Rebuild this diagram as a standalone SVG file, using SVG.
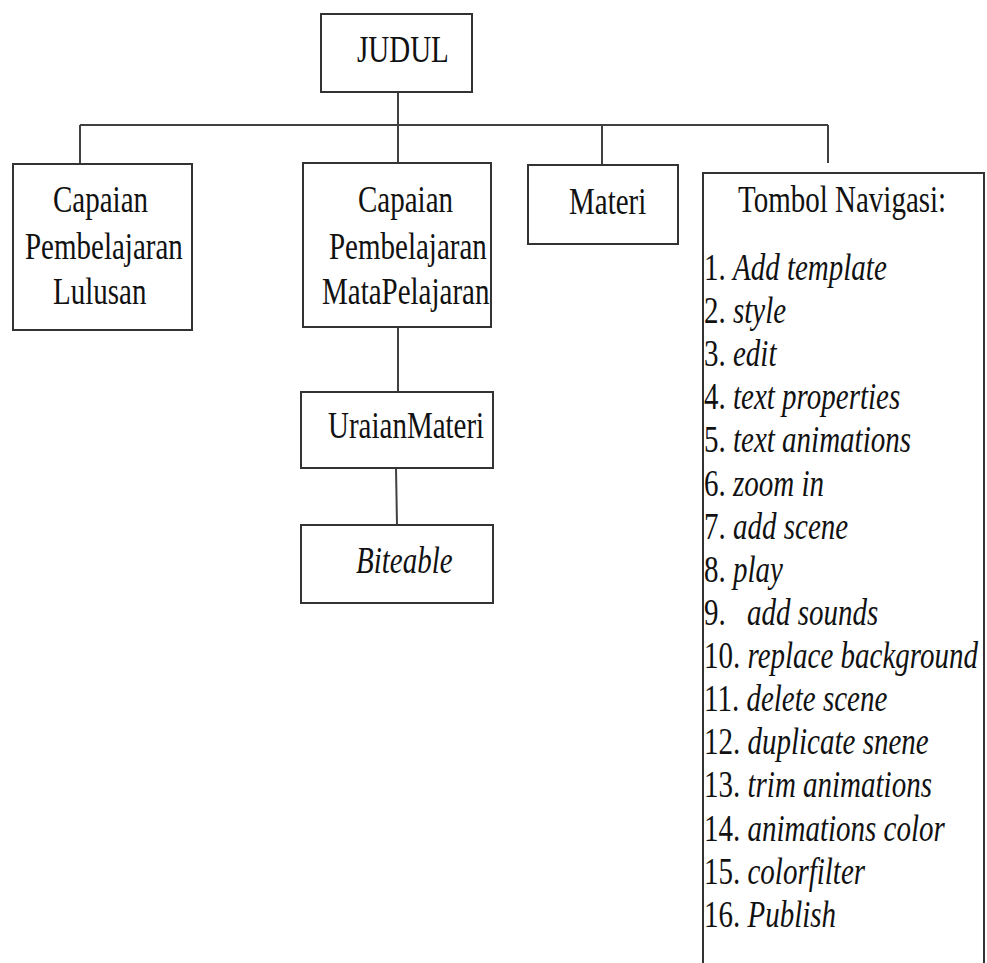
<svg xmlns="http://www.w3.org/2000/svg" width="987" height="963" viewBox="0 0 987 963">
<style>
  .box { fill: #ffffff; stroke: #333333; stroke-width: 2; }
  .ln { stroke: #404040; stroke-width: 2; fill: none; }
  text { font-family: "Liberation Serif", "Times New Roman", serif; font-size: 29px; fill: #111111; }
  .i { font-style: italic; }
</style>
<rect width="987" height="963" fill="#ffffff"/>
<g id="connectors">
  <line class="ln" x1="398" y1="92" x2="398" y2="163"/>
  <line class="ln" x1="80" y1="125" x2="828" y2="125"/>
  <line class="ln" x1="80" y1="125" x2="80" y2="164"/>
  <line class="ln" x1="602" y1="125" x2="602" y2="165"/>
  <line class="ln" x1="828" y1="125" x2="828" y2="163"/>
  <line class="ln" x1="398" y1="327" x2="398" y2="392"/>
  <line class="ln" x1="396" y1="468" x2="397" y2="525"/>
</g>
<g id="judul">
  <rect class="box" x="321" y="14" width="151" height="78"/>
  <text transform="translate(357,62) scale(1,1.3)">JUDUL</text>
</g>
<g id="cpl">
  <rect class="box" x="13" y="164" width="179" height="166"/>
  <text transform="translate(53,212) scale(1,1.3)">Capaian</text>
  <text transform="translate(25,259) scale(1,1.3)">Pembelajaran</text>
  <text transform="translate(53,304) scale(1,1.3)">Lulusan</text>
</g>
<g id="cpmp">
  <rect class="box" x="303" y="163" width="188" height="164"/>
  <text transform="translate(358,212) scale(1,1.3)">Capaian</text>
  <text transform="translate(329,259) scale(1,1.3)">Pembelajaran</text>
  <text transform="translate(322,304) scale(1,1.3)">MataPelajaran</text>
</g>
<g id="materi">
  <rect class="box" x="528" y="165" width="150" height="79"/>
  <text transform="translate(569,214) scale(1,1.3)">Materi</text>
</g>
<g id="uraian">
  <rect class="box" x="301" y="392" width="192" height="76"/>
  <text transform="translate(328,438) scale(1,1.3)">UraianMateri</text>
</g>
<g id="biteable">
  <rect class="box" x="301" y="525" width="192" height="78"/>
  <text class="i" transform="translate(356,573) scale(1,1.3)">Biteable</text>
</g>
<g id="tombol">
  <rect class="box" x="703" y="173" width="281" height="810"/>
  <text transform="translate(738,212) scale(1,1.3)">Tombol Navigasi:</text>
  <text transform="translate(704,280) scale(1,1.3)">1. <tspan class="i">Add template</tspan></text>
  <text transform="translate(704,323) scale(1,1.3)">2. <tspan class="i">style</tspan></text>
  <text transform="translate(704,366) scale(1,1.3)">3. <tspan class="i">edit</tspan></text>
  <text transform="translate(704,409) scale(1,1.3)">4. <tspan class="i">text properties</tspan></text>
  <text transform="translate(704,452) scale(1,1.3)">5. <tspan class="i">text animations</tspan></text>
  <text transform="translate(704,496) scale(1,1.3)">6. <tspan class="i">zoom in</tspan></text>
  <text transform="translate(704,539) scale(1,1.3)">7. <tspan class="i">add scene</tspan></text>
  <text transform="translate(704,582) scale(1,1.3)">8. <tspan class="i">play</tspan></text>
  <text transform="translate(704,625) scale(1,1.3)">9. <tspan class="i" dx="14">add sounds</tspan></text>
  <text transform="translate(704,668) scale(1,1.3)">10. <tspan class="i">replace background</tspan></text>
  <text transform="translate(704,711) scale(1,1.3)">11. <tspan class="i">delete scene</tspan></text>
  <text transform="translate(704,754) scale(1,1.3)">12. <tspan class="i">duplicate snene</tspan></text>
  <text transform="translate(704,797) scale(1,1.3)">13. <tspan class="i">trim animations</tspan></text>
  <text transform="translate(704,841) scale(1,1.3)">14. <tspan class="i">animations color</tspan></text>
  <text transform="translate(704,884) scale(1,1.3)">15. <tspan class="i">colorfilter</tspan></text>
  <text transform="translate(704,927) scale(1,1.3)">16. <tspan class="i">Publish</tspan></text>
</g>
</svg>
